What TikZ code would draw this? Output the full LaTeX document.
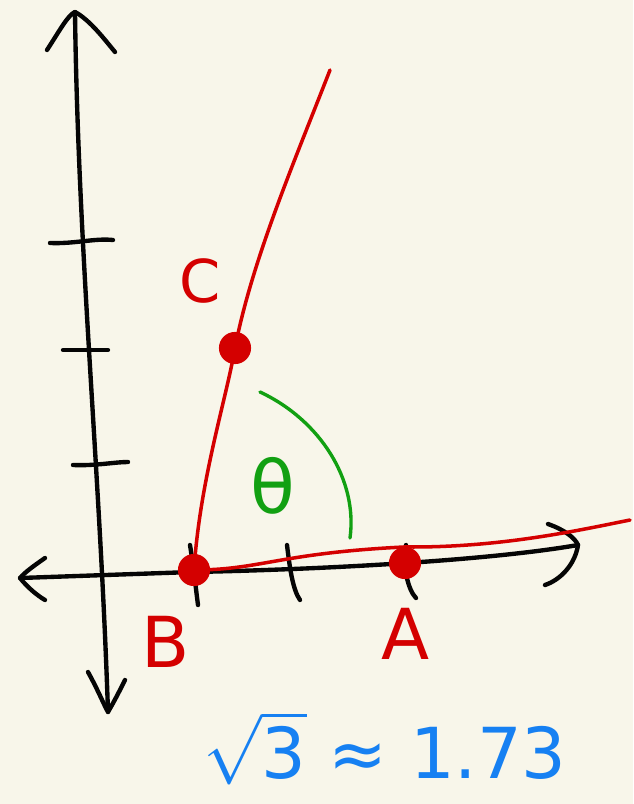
\documentclass[tikz,border=0pt]{standalone}
\usepackage{fontspec}
\usepackage{unicode-math}
\setmainfont{DejaVu Sans}
\setmathfont{Latin Modern Math}
\usetikzlibrary{positioning}
\definecolor{sketchPaper}{HTML}{F8F6EA}
\definecolor{sketchInk}{HTML}{050505}
\definecolor{sketchRed}{HTML}{D40000}
\definecolor{sketchGreen}{HTML}{12A012}
\definecolor{sketchBlue}{HTML}{1680F2}
\tikzset{
  inkline/.style={line width=3.1pt, line cap=round, line join=round, draw=sketchInk},
  redline/.style={line width=2.5pt, line cap=round, line join=round, draw=sketchRed},
  greenline/.style={line width=2.4pt, line cap=round, draw=sketchGreen},
  ptdot/.style={circle, draw=sketchRed, fill=sketchRed, line width=1.5pt, minimum size=0.75cm, inner sep=0pt},
  ptlabel/.style={text=sketchRed, inner sep=0pt, font=\fontsize{50}{52}\selectfont},
}

\begin{document}
\begin{tikzpicture}[x=0.025cm, y=-0.025cm]
    \fill[sketchPaper] (0,0) rectangle (633,804);
    \useasboundingbox (0,0) rectangle (633,804);
    % axes
    \coordinate (ytop) at (75,12);
    \coordinate (ybot) at (108,712);
    \coordinate (xleft) at (20,578);
    \coordinate (xright) at (578,545);
    \draw[inkline] (ybot) .. controls (100,470) and (78,250) .. (ytop);
    \draw[inkline] (xleft) -- (192,572) .. controls (300,570) and (480,562) .. (xright);
    \draw[inkline] (47,50) .. controls (60,30) and (68,15) .. (ytop) .. controls (90,20) and (105,40) .. (115,52);
    \draw[inkline] (88,672) .. controls (98,690) and (104,705) .. (ybot) .. controls (115,700) and (120,690) .. (125,680);
    \draw[inkline] (45,558) .. controls (35,565) and (25,572) .. (xleft) .. controls (28,588) and (38,596) .. (45,600);
    \draw[inkline] (548,524) .. controls (565,530) and (575,538) .. (xright) .. controls (575,565) and (560,580) .. (545,585);
    % ticks
    \draw[inkline] (50,243) .. controls (75,244) and (95,238) .. (113,240);
    \draw[inkline] (63,350) -- (108,350);
    \draw[inkline] (73,465) .. controls (95,466) and (115,462) .. (128,462);
    \draw[inkline] (190,545) .. controls (194,570) and (196,590) .. (198,605);
    \draw[inkline] (287,545) .. controls (290,570) and (293,590) .. (300,600);
    \draw[inkline] (406,545) .. controls (402,565) and (408,590) .. (416,598);
    % points and rays
    \node[ptdot] (B) at (194,570) {};
    \node[ptdot] (A) at (405,563) {};
    \node[ptdot] (C) at (235,348) {};
    \coordinate (ctop) at (330,70);
    \coordinate (aend) at (630,520);
    \draw[redline] (B.center) .. controls (200,480) and (226,400) .. (C.center) .. controls (252,260) and (295,160) .. (ctop);
    \draw[redline] (B.center) .. controls (260,570) and (280,553) .. (A.north) .. controls (500,548) and (580,530) .. (aend);
    \node[ptlabel, font=\fontsize{42}{44}\selectfont] (labC) at (200,281) {C};
    \node[ptlabel] (labB) at (166,642) {B};
    \node[ptlabel] (labA) at (406,634) {A};
    % angle
    \draw[greenline] (260,392) .. controls (320,420) and (358,480) .. (350,538);
    \node[text=sketchGreen, font=\fontsize{52}{54}\selectfont] (theta) at (273,486) {θ};
    \node[text=sketchBlue, font=\fontsize{50}{52}\selectfont] (approx) at (385,748) {$\sqrt{\mbox{3}}$ ≈ 1.73};
\end{tikzpicture}
\end{document}
